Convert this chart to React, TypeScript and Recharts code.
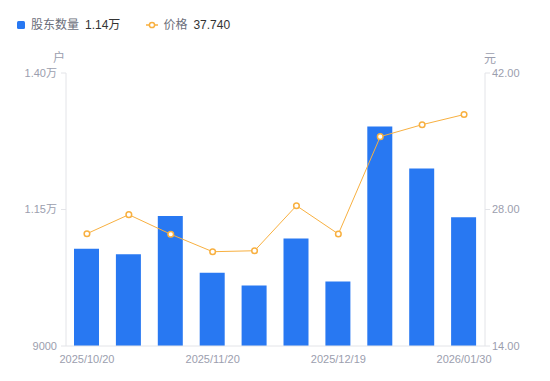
import React from "react";
import { ComposedChart, Bar, Line, XAxis, YAxis } from "recharts";

const DATES = [
  "2025/10/20",
  "2025/10/31",
  "2025/11/10",
  "2025/11/20",
  "2025/11/28",
  "2025/12/10",
  "2025/12/19",
  "2025/12/31",
  "2026/01/20",
  "2026/01/30",
];
const HOLDERS = [10780, 10680, 11380, 10340, 10110, 10970, 10180, 13020, 12250, 11360];
const PRICES = [25.52, 27.47, 25.46, 23.67, 23.77, 28.39, 25.49, 35.47, 36.7, 37.74];
const LEFT_TICKS = [9000, 11500, 14000];
const RIGHT_TICKS = [14, 28, 42];
const SHOWN_DATES = ["2025/10/20", "2025/11/20", "2025/12/19", "2026/01/30"];

const BLUE = "#2878f2";
const ORANGE = "#f8b040";
const AXIS = "#e3e4e8";
const TICK_TEXT = "#9b9eae";
const FONT = "'Liberation Sans', Arial, 'Noto Sans CJK SC', sans-serif";

const data = DATES.map((date, i) => ({ date, holders: HOLDERS[i], price: PRICES[i] }));

function formatHolders(v: number) {
  if (v >= 10000) return `${(v / 10000).toFixed(2)}万`;
  return String(v);
}

export default function App() {
  const tick = { fontSize: 11, fill: TICK_TEXT, fontFamily: FONT };
  return (
    <div
      style={{
        position: "fixed",
        left: 0,
        top: 0,
        width: 550,
        height: 381,
        background: "#fff",
        fontFamily: FONT,
      }}
    >
      {/* legend */}
      <div style={{ position: "absolute", left: 17, top: 17, fontSize: 12, lineHeight: "16px", display: "flex", alignItems: "center" }}>
        <span style={{ width: 8, height: 8, background: BLUE, borderRadius: 1.5, display: "inline-block" }} />
        <span style={{ marginLeft: 6, color: "#6b6e7a" }}>股东数量</span>
        <span style={{ marginLeft: 6, color: "#333" }}>1.14万</span>
        <svg width="12" height="8" style={{ marginLeft: 26 }}>
          <line x1="0" y1="4" x2="12" y2="4" stroke={ORANGE} strokeWidth="1.5" />
          <circle cx="6" cy="4" r="2.6" fill="#fff" stroke={ORANGE} strokeWidth="1.5" />
        </svg>
        <span style={{ marginLeft: 5, color: "#6b6e7a" }}>价格</span>
        <span style={{ marginLeft: 6, color: "#333" }}>37.740</span>
      </div>
      <div style={{ position: "absolute", left: 53, top: 48, fontSize: 12, color: TICK_TEXT }}>户</div>
      <div style={{ position: "absolute", left: 484, top: 49, fontSize: 12, color: TICK_TEXT }}>元</div>

      <ComposedChart
        width={550}
        height={381}
        data={data}
        margin={{ top: 73, right: 0, left: 0, bottom: 5 }}
        barCategoryGap="40%"
      >
        <XAxis
          dataKey="date"
          ticks={SHOWN_DATES}
          interval={0}
          tick={tick}
          tickLine={false}
          tickSize={0}
          tickMargin={9}
          height={30}
          axisLine={{ stroke: AXIS }}
        />
        <YAxis
          yAxisId="left"
          domain={[9000, 14000]}
          ticks={LEFT_TICKS}
          tickFormatter={formatHolders}
          tick={tick}
          tickSize={5}
          tickMargin={4}
          width={66}
          axisLine={{ stroke: AXIS }}
          tickLine={{ stroke: AXIS }}
        />
        <YAxis
          yAxisId="right"
          orientation="right"
          domain={[14, 42]}
          ticks={RIGHT_TICKS}
          tickFormatter={(v: number) => v.toFixed(2)}
          tick={tick}
          tickSize={5}
          tickMargin={2}
          width={65}
          axisLine={{ stroke: AXIS }}
          tickLine={{ stroke: AXIS }}
        />
        <Bar yAxisId="left" dataKey="holders" fill={BLUE} barSize={25} isAnimationActive={false} />
        <Line
          yAxisId="right"
          type="linear"
          dataKey="price"
          stroke={ORANGE}
          strokeWidth={1}
          dot={{ r: 2.8, fill: "#fff", stroke: ORANGE, strokeWidth: 1.5 }}
          activeDot={false}
          isAnimationActive={false}
        />
      </ComposedChart>
    </div>
  );
}
